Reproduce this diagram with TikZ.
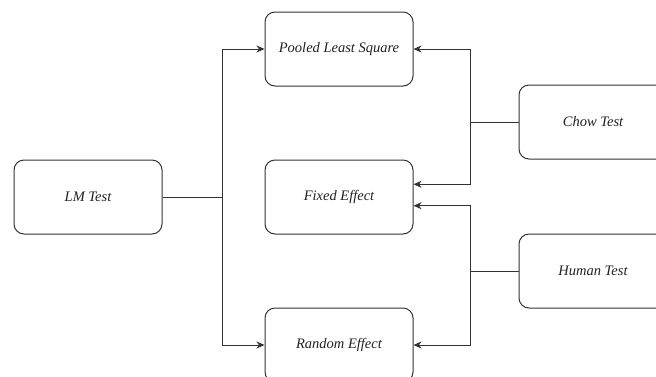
\documentclass[tikz,border=0pt]{standalone}
\usepackage{fontspec}
\setmainfont{Liberation Serif}
\usetikzlibrary{arrows.meta}
\definecolor{edge}{HTML}{333333}
\definecolor{label}{HTML}{222222}
\tikzset{
  boxnode/.style={draw=edge, line width=1pt, rounded corners=10pt, fill=white,
    minimum width=148pt, minimum height=74pt, inner sep=0pt,
    text=label, font=\fontsize{14.5}{16}\selectfont\itshape},
  link/.style={draw=edge, line width=1pt},
  arrowlink/.style={link, -{Stealth[length=8pt,width=7pt,inset=2.5pt]}}
}
\begin{document}
\begin{tikzpicture}[x=1pt,y=-1pt]
  \useasboundingbox (0,0) rectangle (656,376);
  \clip (0,0) rectangle (656,376);
  \fill[white] (0,0) rectangle (656,376);

  % model boxes
  \node[boxnode] (lm)  at (88,197)  {LM Test};
  \node[boxnode] (pls) at (339,49)  {Pooled Least Square};
  \node[boxnode] (fe)  at (339,197) {Fixed Effect};
  \node[boxnode] (re)  at (339,345) {Random Effect};
  \node[boxnode] (chow)  at (593,122) {Chow Test};
  \node[boxnode] (human) at (593,271) {Human Test};

  % junction points of the branching connectors
  \coordinate (jlm) at (222,197);
  \coordinate (jchow) at (470,122);
  \coordinate (jhuman) at (470,271);
  \coordinate (feup) at ([yshift=12.7pt]fe.east);
  \coordinate (fedown) at ([yshift=-8.7pt]fe.east);

  % LM test branches
  \draw[link] (lm.east) -- (jlm);
  \draw[arrowlink] (jlm) |- (pls.west);
  \draw[arrowlink] (jlm) |- (re.west);

  % Chow test branches
  \draw[link] (chow.west) -- (jchow);
  \draw[arrowlink] (jchow) |- (pls.east);
  \draw[arrowlink] (jchow) |- (feup);

  % Human test branches
  \draw[link] (human.west) -- (jhuman);
  \draw[arrowlink] (jhuman) |- (fedown);
  \draw[arrowlink] (jhuman) |- (re.east);
\end{tikzpicture}
\end{document}
